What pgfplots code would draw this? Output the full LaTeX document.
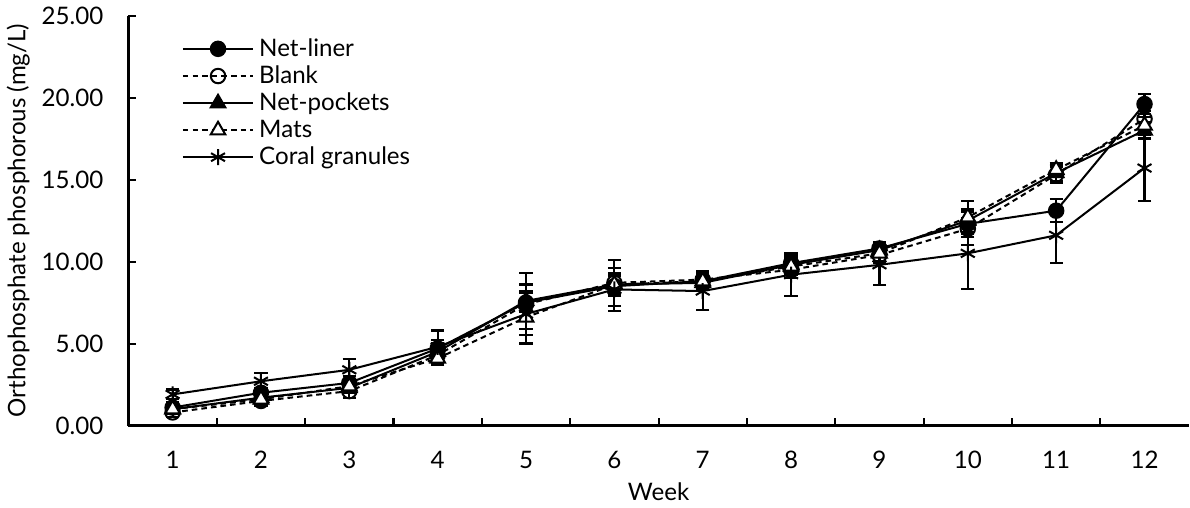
\documentclass[border=0pt]{standalone}
\usepackage{pgfplots}
\pgfplotsset{compat=1.18}
\usepackage{pgfplotstable}
\usepackage{fontspec}
\setmainfont{Lato}
\pgfplotstableread{
x y e
1 1.1 0.3
2 2.0 0.3
3 2.6 0.4
4 4.7 0.5
5 7.5 0.6
6 8.5 0.6
7 8.8 0.4
8 9.9 0.5
9 10.8 0.4
10 12.3 0.8
11 13.1 0.7
12 19.6 0.6
}\netliner
\pgfplotstableread{
x y e
1 0.8 0.3
2 1.5 0.3
3 2.1 0.4
4 4.3 0.5
5 7.4 1.9
6 8.7 1.4
7 8.9 0.5
8 9.5 0.5
9 10.4 0.5
10 12.0 1.0
11 15.3 0.5
12 18.7 0.5
}\blank
\pgfplotstableread{
x y e
1 1.0 0.3
2 1.7 0.3
3 2.3 0.3
4 4.5 0.5
5 7.6 0.6
6 8.6 0.7
7 8.7 0.4
8 9.8 0.5
9 10.7 0.4
10 12.5 0.7
11 15.4 0.5
12 18.0 0.5
}\netpockets
\pgfplotstableread{
x y e
1 1.0 0.3
2 1.6 0.3
3 2.4 0.4
4 4.1 0.4
5 6.6 0.7
6 8.6 0.6
7 8.8 0.5
8 9.7 0.5
9 10.5 0.5
10 12.7 1.0
11 15.6 0.4
12 18.3 0.5
}\mats
\pgfplotstableread{
x y e
1 1.9 0.3
2 2.7 0.5
3 3.4 0.65
4 4.8 1.0
5 6.8 1.8
6 8.3 1.3
7 8.2 1.15
8 9.2 1.3
9 9.8 1.25
10 10.5 2.15
11 11.6 1.7
12 15.7 2.0
}\coral
\begin{document}
\begin{tikzpicture}
\begin{axis}[
  scale only axis,
  width=527.5pt, height=204pt,
  xmin=0.5, xmax=12.5,
  ymin=0, ymax=25,
  axis x line=bottom, axis y line=left,
  axis line style={-, line width=1.3pt},
  xtick={1,...,12},
  major x tick style={draw=none},
  minor xtick={1.5,2.5,...,11.5},
  minor tick length=4pt,
  ytick={0,5,...,25},
  major tick length=4pt,
  tick align=inside,
  tick style={line width=1pt, black},
  yticklabel={\pgfmathprintnumber[fixed,fixed zerofill,precision=2]{\tick}},
  /pgf/number format/assume math mode=true,
  font=\fontsize{12}{14}\selectfont,
  ticklabel style={font=\fontsize{12}{14}\selectfont},
  xticklabel style={yshift=-9pt},
  yticklabel style={xshift=-9pt},
  xlabel={Week},
  ylabel={Orthophosphate phosphorous (mg/L)},
  xlabel style={at={(axis description cs:0.5,0)}, anchor=north, yshift=-25pt},
  ylabel style={yshift=-1pt},
  legend style={draw=none, fill=none, at={(0.05,0.95)}, anchor=north west,
    font=\fontsize{12}{14}\selectfont, row sep=1.2pt, inner sep=0pt,
    nodes={inner xsep=2.5pt, inner ysep=1pt}},
  legend cell align=left,
  legend image code/.code={\draw[mark repeat=2,mark phase=2] plot coordinates {(0pt,0pt) (17.5pt,0pt) (35pt,0pt)};},
  error bars/error bar style={line width=1.1pt, black, solid},
  error bars/error mark options={rotate=90, mark size=3.3pt, line width=1.1pt, solid, black},
  clip=false,
]
\addplot[black, line width=1pt, solid, mark=*, mark size=3.6pt, mark options={solid, fill=black, draw=black},
  error bars/.cd, y dir=both, y explicit] table[x=x, y=y, y error=e]{\netliner};
\addlegendentry{Net-liner}
\addplot[black, line width=1pt, dash pattern=on 2.8pt off 2pt, mark=o, mark size=3.6pt, mark options={solid, fill=white, draw=black},
  error bars/.cd, y dir=both, y explicit] table[x=x, y=y, y error=e]{\blank};
\addlegendentry{Blank}
\addplot[black, line width=1pt, solid, mark=triangle*, mark size=4.2pt, mark options={solid, fill=black, draw=black},
  error bars/.cd, y dir=both, y explicit] table[x=x, y=y, y error=e]{\netpockets};
\addlegendentry{Net-pockets}
\addplot[black, line width=1pt, dash pattern=on 2.8pt off 2pt, mark=triangle*, mark size=4.2pt, mark options={solid, fill=white, draw=black},
  error bars/.cd, y dir=both, y explicit] table[x=x, y=y, y error=e]{\mats};
\addlegendentry{Mats}
\addplot[black, line width=1pt, solid, mark=asterisk, mark size=4pt, mark options={solid, draw=black},
  error bars/.cd, y dir=both, y explicit] table[x=x, y=y, y error=e]{\coral};
\addlegendentry{Coral granules}
\end{axis}
\end{tikzpicture}
\end{document}
